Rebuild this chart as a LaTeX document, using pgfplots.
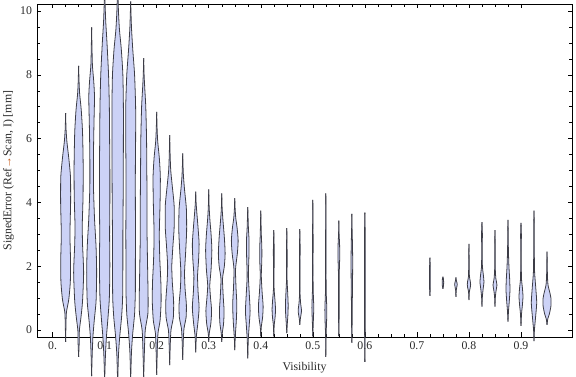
\documentclass[border=0pt]{standalone}
\usepackage{fontspec}
\setmainfont{Liberation Serif}
\usepackage{pgfplots}
\pgfplotsset{compat=1.18}
\usepackage{pgfplotstable}
\usepgfplotslibrary{fillbetween}
\definecolor{vfill}{RGB}{204,210,246}
\definecolor{vedge}{RGB}{60,60,70}
\definecolor{arrowc}{RGB}{200,95,30}
\definecolor{tickc}{RGB}{40,40,40}

% violin outlines: y value, half width in units of 0.001 on the x axis
\pgfplotstableread[row sep=\\]{y w\\ -0.37 0\\ 0.1 0.6\\ 0.55 1.5\\ 0.95 6\\ 1.5 9\\ 2.2 9.4\\ 3.0 8.3\\ 4.0 9.6\\ 4.8 9.3\\ 5.4 6\\ 5.9 2.5\\ 6.3 0.8\\ 6.8 0\\}\vA
\pgfplotstableread[row sep=\\]{y w\\ -0.84 0\\ -0.35 1.2\\ 0.0 1.5\\ 0.4 4.5\\ 0.9 7.5\\ 1.8 9.6\\ 2.7 7.5\\ 3.3 7\\ 4.2 8.5\\ 5.2 8.7\\ 6.2 7.5\\ 6.9 5\\ 7.4 2\\ 7.8 0.8\\ 8.28 0\\}\vB
\pgfplotstableread[row sep=\\]{y w\\ -1.45 0\\ -0.8 1\\ -0.2 2.5\\ 0.3 5\\ 0.9 8.5\\ 1.8 9.6\\ 2.6 8.5\\ 3.5 5.5\\ 4.5 3.5\\ 5.5 3.5\\ 6.5 4.5\\ 7.3 5.5\\ 7.8 4\\ 8.3 1.5\\ 8.9 0.6\\ 9.49 0\\}\vC
\pgfplotstableread[row sep=\\]{y w\\ -1.6 0\\ -0.8 1.5\\ -0.2 3.5\\ 0.3 6\\ 1.0 9\\ 2.0 10\\ 3.0 9.5\\ 4.0 10\\ 5.0 10\\ 6.0 9.5\\ 7.0 9\\ 8.0 7.5\\ 9.0 4.5\\ 9.7 2\\ 10.6 0\\}\vD
\pgfplotstableread[row sep=\\]{y w\\ -1.7 0\\ -0.8 1.5\\ -0.2 4\\ 0.4 7.5\\ 1.0 9.5\\ 2 10\\ 3 10\\ 4 10.5\\ 5 10.8\\ 6 11\\ 7 11\\ 8 10\\ 8.8 7\\ 9.4 3.5\\ 10 1.5\\ 10.8 0\\}\vE
\pgfplotstableread[row sep=\\]{y w\\ -1.6 0\\ -0.7 1.5\\ -0.1 4\\ 0.5 7.5\\ 1.2 9\\ 2 9\\ 3 9.3\\ 4 9\\ 5 9\\ 6 9.5\\ 7 9.5\\ 8 7.5\\ 8.8 4\\ 9.5 1.5\\ 10.3 0\\}\vF
\pgfplotstableread[row sep=\\]{y w\\ -1.5 0\\ -0.6 1.5\\ 0 3\\ 0.5 8\\ 1.0 8.5\\ 2 7.5\\ 3 6.5\\ 4 6.5\\ 5 6\\ 6 5.5\\ 7 4\\ 7.6 2\\ 8.0 0.8\\ 8.52 0\\}\vG
\pgfplotstableread[row sep=\\]{y w\\ -1.41 0\\ -0.6 1.2\\ -0.1 2.5\\ 0.3 6.5\\ 0.9 8.5\\ 1.5 8\\ 2.2 6\\ 3.0 5\\ 4.0 6.5\\ 4.8 7\\ 5.4 5\\ 5.9 2\\ 6.3 0.8\\ 6.84 0\\}\vH
\pgfplotstableread[row sep=\\]{y w\\ -1.1 0\\ -0.4 1.2\\ 0 2.5\\ 0.4 7\\ 0.9 7.5\\ 1.5 5\\ 2.0 4\\ 2.6 6\\ 3.2 8.5\\ 3.9 8.5\\ 4.5 5\\ 5.0 2\\ 5.5 0.8\\ 6.11 0\\}\vI
\pgfplotstableread[row sep=\\]{y w\\ -0.94 0\\ -0.3 1.2\\ 0.05 2.5\\ 0.4 6.5\\ 0.8 7\\ 1.3 4.5\\ 1.8 3.5\\ 2.4 5.5\\ 3.1 7.5\\ 3.8 7\\ 4.4 3.5\\ 4.8 1.5\\ 5.1 0.7\\ 5.54 0\\}\vJ
\pgfplotstableread[row sep=\\]{y w\\ -0.7 0\\ -0.2 1.2\\ 0.2 4\\ 0.7 6.5\\ 1.2 4.5\\ 1.7 3.5\\ 2.2 5.5\\ 2.7 6.5\\ 3.2 4.5\\ 3.7 2\\ 4.0 0.7\\ 4.34 0\\}\vK
\pgfplotstableread[row sep=\\]{y w\\ -0.37 0\\ -0.1 1\\ 0.2 4\\ 0.6 5.5\\ 1.0 3.5\\ 1.4 2\\ 1.9 4.5\\ 2.5 6\\ 3.0 4.5\\ 3.5 2\\ 3.9 0.7\\ 4.41 0\\}\vL
\pgfplotstableread[row sep=\\]{y w\\ -0.37 0\\ -0.1 1\\ 0.2 3.5\\ 0.6 4.5\\ 1.0 3\\ 1.6 1.5\\ 2.0 5\\ 2.4 6.5\\ 2.9 5\\ 3.4 2.5\\ 3.8 0.8\\ 4.28 0\\}\vM
\pgfplotstableread[row sep=\\]{y w\\ -0.63 0\\ -0.2 1\\ 0.3 3\\ 0.8 4\\ 1.3 2.5\\ 1.9 1.5\\ 2.4 5\\ 2.8 6.5\\ 3.2 4.5\\ 3.5 2\\ 3.8 0.7\\ 4.13 0\\}\vN
\pgfplotstableread[row sep=\\]{y w\\ -0.89 0\\ -0.3 1\\ 0.2 3\\ 0.6 4.5\\ 1.1 3\\ 1.7 1.2\\ 2.3 2.2\\ 2.8 2.5\\ 3.2 1.2\\ 3.85 0\\}\vO
\pgfplotstableread[row sep=\\]{y w\\ -0.2 0\\ 0.1 1\\ 0.4 3.5\\ 0.75 4.5\\ 1.2 2.5\\ 1.7 1\\ 2.2 2\\ 2.6 2\\ 3.0 1\\ 3.74 0\\}\vP
\pgfplotstableread[row sep=\\]{y w\\ -0.2 0\\ 0.15 0.8\\ 0.4 2.5\\ 0.65 3.3\\ 0.95 2.2\\ 1.3 0.6\\ 2.0 0.6\\ 2.5 0.8\\ 3.13 0\\}\vQ
\pgfplotstableread[row sep=\\]{y w\\ -0.1 0\\ 0.2 1\\ 0.5 2.2\\ 0.8 2.6\\ 1.2 1.6\\ 1.6 0.5\\ 2.3 0.7\\ 2.6 0.5\\ 3.19 0\\}\vR
\pgfplotstableread[row sep=\\]{y w\\ 0.16 0\\ 0.35 1\\ 0.6 3.2\\ 0.85 1.5\\ 1.2 0.4\\ 2.2 0.4\\ 2.5 0.8\\ 2.8 0.4\\ 3.16 0\\}\vS
\pgfplotstableread[row sep=\\]{y w\\ -0.2 0\\ 0.2 0.8\\ 0.7 1.8\\ 1.2 0.8\\ 1.8 0.4\\ 2.8 0.6\\ 3.4 0.3\\ 4.08 0\\}\vT
\pgfplotstableread[row sep=\\]{y w\\ -0.84 0\\ -0.2 0.4\\ 0.3 1.5\\ 0.7 1.8\\ 1.2 0.7\\ 2 0.4\\ 3 0.4\\ 4.28 0\\}\vU
\pgfplotstableread[row sep=\\]{y w\\ -0.19 0\\ 0.5 0.6\\ 1.2 0.6\\ 1.8 0.8\\ 2.3 1.7\\ 2.7 1.4\\ 3.0 0.5\\ 3.43 0\\}\vV
\pgfplotstableread[row sep=\\]{y w\\ -0.4 0\\ 0.2 0.5\\ 0.8 0.8\\ 1.5 1.3\\ 2.2 1.6\\ 2.8 1.0\\ 3.2 0.4\\ 3.64 0\\}\vW
\pgfplotstableread[row sep=\\]{y w\\ -1.0 0\\ 0 0.5\\ 1.0 0.8\\ 2.0 0.8\\ 3.0 0.6\\ 3.68 0\\}\vX
\pgfplotstableread[row sep=\\]{y w\\ 1.07 0\\ 1.3 0.6\\ 1.7 0.8\\ 2.0 0.6\\ 2.27 0\\}\wA
\pgfplotstableread[row sep=\\]{y w\\ 1.29 0\\ 1.4 1.2\\ 1.5 1.4\\ 1.6 1.0\\ 1.67 0\\}\wB
\pgfplotstableread[row sep=\\]{y w\\ 1.04 0\\ 1.25 0.6\\ 1.43 2.5\\ 1.55 0.8\\ 1.65 0\\}\wC
\pgfplotstableread[row sep=\\]{y w\\ 0.94 0\\ 1.2 0.8\\ 1.33 2.5\\ 1.43 3.2\\ 1.53 2.5\\ 1.7 0.8\\ 2.2 0.4\\ 2.7 0\\}\wD
\pgfplotstableread[row sep=\\]{y w\\ 0.73 0\\ 1.0 0.6\\ 1.25 2\\ 1.5 3.8\\ 1.75 2.5\\ 2.0 0.8\\ 2.6 0.5\\ 3.0 0.8\\ 3.38 0\\}\wE
\pgfplotstableread[row sep=\\]{y w\\ 0.73 0\\ 1.0 0.6\\ 1.2 1.8\\ 1.41 3.8\\ 1.6 1.8\\ 1.9 0.6\\ 2.6 0.4\\ 3.13 0\\}\wF
\pgfplotstableread[row sep=\\]{y w\\ 0.26 0\\ 0.6 1\\ 0.9 2.5\\ 1.25 3.8\\ 1.6 3.2\\ 2.0 1.8\\ 2.5 0.8\\ 3.0 0.4\\ 3.45 0\\}\wG
\pgfplotstableread[row sep=\\]{y w\\ 0.13 0\\ 0.5 1\\ 0.8 2.8\\ 1.05 3.8\\ 1.3 2.8\\ 1.6 1\\ 2.2 0.4\\ 3.0 0.7\\ 3.36 0\\}\wH
\pgfplotstableread[row sep=\\]{y w\\ -0.35 0\\ 0 0.8\\ 0.4 3\\ 0.85 5.2\\ 1.3 3.5\\ 1.8 1.2\\ 2.5 0.5\\ 3.2 0.4\\ 3.74 0\\}\wI
\pgfplotstableread[row sep=\\]{y w\\ 0.16 0\\ 0.35 1.5\\ 0.5 4.5\\ 0.75 7.5\\ 1.0 7.5\\ 1.2 5\\ 1.4 2\\ 1.7 0.8\\ 2.46 0\\}\wJ

\pgfplotsset{vline/.style={draw=vedge, line width=0.8pt, smooth, tension=0.4, forget plot}}
\newcommand{\violin}[3]{%
  \addplot[vline, name path=#1R] table[x expr=#2+\thisrow{w}/1000, y=y]{#3};
  \addplot[vline, name path=#1L] table[x expr=#2-\thisrow{w}/1000, y=y]{#3};
  \addplot[fill=vfill, draw=none, forget plot] fill between[of=#1R and #1L];
}

\begin{document}
\begin{tikzpicture}
\begin{axis}[
  set layers,
  scale only axis,
  width=535bp, height=333bp,
  xmin=-0.030, xmax=0.998, ymin=-0.22, ymax=10.22,
  clip=false,
  axis line style={black, line width=0.6pt},
  tick align=inside,
  tick style={black, line width=0.5pt},
  major tick length=4.5bp, minor tick length=2.6bp,
  xtick={0,0.1,0.2,0.3,0.4,0.5,0.6,0.7,0.8,0.9},
  xticklabels={0.,0.1,0.2,0.3,0.4,0.5,0.6,0.7,0.8,0.9},
  minor x tick num=3,
  ytick={0,2,4,6,8,10},
  minor y tick num=3,
  /pgf/number format/assume math mode=true,
  ticklabel style={font=\fontsize{11.8bp}{13bp}\selectfont, text=tickc},
  xticklabel style={yshift=-1bp},
  yticklabel style={xshift=-1.5bp},
  label style={font=\fontsize{11.8bp}{13bp}\selectfont, text=tickc},
  xlabel={Visibility},
  xlabel style={at={(axis description cs:0.5,0)}, anchor=center, yshift=-31bp},
  ylabel={SignedError (Ref{\color{arrowc}→}Scan, I) [mm]},
  ylabel style={at={(axis description cs:-0.0533,0.5)}, anchor=center},
]
\coordinate (LL) at (rel axis cs:0,0);
\coordinate (UR) at (rel axis cs:1,1);
\violin{a}{0.025}{\vA}
\violin{b}{0.05}{\vB}
\violin{c}{0.075}{\vC}
\violin{d}{0.1}{\vD}
\violin{e}{0.125}{\vE}
\violin{f}{0.15}{\vF}
\violin{g}{0.175}{\vG}
\violin{h}{0.2}{\vH}
\violin{i}{0.225}{\vI}
\violin{j}{0.25}{\vJ}
\violin{k}{0.275}{\vK}
\violin{l}{0.3}{\vL}
\violin{m}{0.325}{\vM}
\violin{n}{0.35}{\vN}
\violin{o}{0.375}{\vO}
\violin{p}{0.4}{\vP}
\violin{q}{0.425}{\vQ}
\violin{r}{0.45}{\vR}
\violin{s}{0.475}{\vS}
\violin{t}{0.5}{\vT}
\violin{u}{0.525}{\vU}
\violin{v}{0.55}{\vV}
\violin{w}{0.575}{\vW}
\violin{x}{0.6}{\vX}
\violin{aa}{0.725}{\wA}
\violin{bb}{0.75}{\wB}
\violin{cc}{0.775}{\wC}
\violin{dd}{0.8}{\wD}
\violin{ee}{0.825}{\wE}
\violin{ff}{0.85}{\wF}
\violin{gg}{0.875}{\wG}
\violin{hh}{0.9}{\wH}
\violin{ii}{0.925}{\wI}
\violin{jj}{0.95}{\wJ}
\end{axis}
\pgfresetboundingbox
\path[use as bounding box] ([shift={(-37bp,-40bp)}]LL) rectangle ([shift={(4bp,4bp)}]UR);
\end{tikzpicture}
\end{document}
